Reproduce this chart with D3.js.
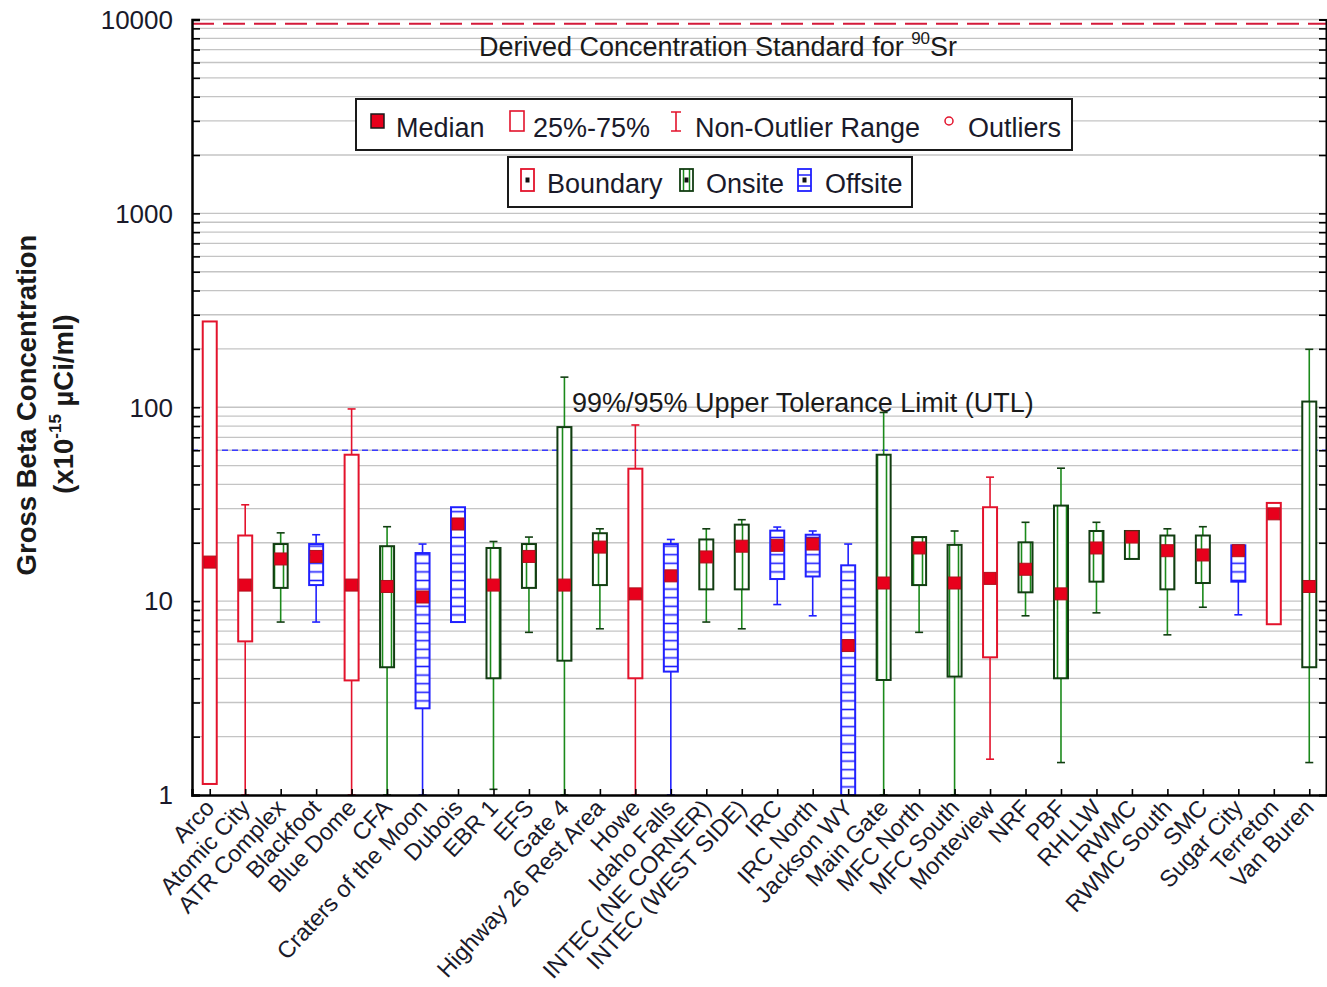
<!DOCTYPE html>
<html>
<head>
<meta charset="utf-8">
<script src="https://d3js.org/d3.v7.min.js"></script>
<style>
  body { margin: 0; background: #fff; }
  svg { display: block; font-family: "Liberation Sans", Arial, sans-serif; }
</style>
</head>
<body>
<svg width="1327" height="987"></svg>
<script>
// data (x10^-15 uCi/ml)
var sites = ["Arco", "Atomic City", "ATR Complex", "Blackfoot", "Blue Dome", "CFA",
  "Craters of the Moon", "Dubois", "EBR 1", "EFS", "Gate 4", "Highway 26 Rest Area",
  "Howe", "Idaho Falls", "INTEC (NE CORNER)", "INTEC (WEST SIDE)", "IRC", "IRC North",
  "Jackson WY", "Main Gate", "MFC North", "MFC South", "Monteview", "NRF", "PBF",
  "RHLLW", "RWMC", "RWMC South", "SMC", "Sugar City", "Terreton", "Van Buren"];
// B = boundary, O = onsite, F = offsite
var groups = ["B","B","O","F","B","O","F","F","O","O","O","O","B","F","O","O",
  "F","F","F","O","O","O","B","O","O","O","O","O","O","F","B","O"];
var lowWhisker  = [1.14, 1, 7.8, 7.8, 1, 1, 1, 7.8, 1.07, 6.9, 1, 7.2, 1, 1, 7.8, 7.2,
  9.6, 8.4, 1, 1, 6.9, 1, 1.53, 8.4, 1.47, 8.7, 16.5, 6.7, 9.3, 8.5, 7.6, 1.47];
var q1 = [1.14, 6.2, 11.7, 12.1, 3.9, 4.56, 2.8, 7.8, 4.0, 11.7, 4.93, 12.1, 4.0, 4.33, 11.5, 11.5,
  13.0, 13.4, 1, 3.92, 12.1, 4.08, 5.13, 11.1, 4.0, 12.6, 16.5, 11.5, 12.4, 12.6, 7.6, 4.56];
var medians = [15.9, 12.1, 16.5, 17.0, 12.1, 11.9, 10.5, 25.0, 12.1, 17.0, 12.1, 19.0, 10.9, 13.5, 16.9, 19.2,
  19.4, 19.7, 5.9, 12.4, 18.8, 12.4, 13.1, 14.6, 10.9, 18.8, 21.4, 18.2, 17.3, 18.2, 28.2, 11.9];
var q3 = [277, 21.8, 19.7, 19.7, 56.9, 19.2, 17.7, 30.5, 18.8, 19.7, 79, 22.4, 48.2, 19.7, 20.8, 24.8,
  23.1, 22.0, 15.3, 56.9, 21.4, 19.5, 30.5, 20.1, 31.1, 23.0, 23.0, 21.8, 21.8, 19.4, 32.1, 107];
var highWhisker = [277, 31.4, 22.5, 22.0, 98, 24.2, 19.7, 30.5, 20.3, 21.4, 143, 23.6, 81, 20.8, 23.6, 26.3,
  24.1, 23.0, 19.7, 94, 21.4, 23.0, 43.6, 25.5, 48.5, 25.5, 23.0, 23.6, 24.2, 19.4, 32.1, 199];
var yTicks = [1, 10, 100, 1000, 10000];
var dcsValue = 9500;
var utlValue = 60;

var plotL = 192, plotR = 1327, plotT = 19.5, plotB = 795;
var red = "#e3132c", green = "#1b8a1b", darkGreen = "#123d12", blue = "#2020ff";

var svg = d3.select("svg");
var defs = svg.append("defs");

defs.append("pattern").attr("id", "hstripe").attr("patternUnits", "userSpaceOnUse")
  .attr("width", 10).attr("height", 8.6)
  .append("line").attr("x1", 0).attr("x2", 10).attr("y1", 4.3).attr("y2", 4.3)
  .attr("stroke", blue).attr("stroke-width", 1.6);
defs.append("pattern").attr("id", "vstripe").attr("patternUnits", "userSpaceOnUse")
  .attr("width", 9).attr("height", 10)
  .append("line").attr("x1", 4.5).attr("x2", 4.5).attr("y1", 0).attr("y2", 10)
  .attr("stroke", green).attr("stroke-width", 1.6);

// scales
var x = d3.scalePoint().domain(sites).range([plotL, plotR]).padding(0.5);
var y = d3.scaleLog().domain([1, 10000]).range([plotB, plotT]);

// grid
var minor = [];
for (var e = 0; e < 4; e++) for (var m = 1; m < 10; m++) minor.push(m * Math.pow(10, e));
minor.push(10000);
svg.append("g").selectAll("line").data(minor.filter(function(v){ return v > 1; })).enter()
  .append("line")
  .attr("x1", plotL).attr("x2", plotR)
  .attr("y1", function(d){ return y(d); }).attr("y2", function(d){ return y(d); })
  .attr("stroke", "#c4c4c4").attr("stroke-width", 1.3);

// reference lines
svg.append("line").attr("x1", plotL).attr("x2", plotR)
  .attr("y1", y(dcsValue)).attr("y2", y(dcsValue))
  .attr("stroke", "#d41a3a").attr("stroke-width", 2).attr("stroke-dasharray", "22,9");
svg.append("line").attr("x1", plotL).attr("x2", plotR)
  .attr("y1", y(utlValue)).attr("y2", y(utlValue))
  .attr("stroke", "#3a3aff").attr("stroke-width", 1.6).attr("stroke-dasharray", "6,4");

var dcsText = svg.append("text").attr("x", 718).attr("y", 56)
  .attr("text-anchor", "middle").attr("font-size", 27).attr("fill", "#1a1a1a");
dcsText.append("tspan").text("Derived Concentration Standard for ");
dcsText.append("tspan").attr("font-size", 17).attr("dy", -12).text("90");
dcsText.append("tspan").attr("dy", 12).text("Sr");

svg.append("text").attr("x", 572).attr("y", 412).attr("font-size", 27)
  .attr("fill", "#1a1a1a").text("99%/95% Upper Tolerance Limit (UTL)");

// boxes
var boxW = 14, capW = 8;
var idx = d3.range(sites.length);
function lineColor(g){ return g === "B" ? red : (g === "O" ? green : blue); }
function capColor(g){ return g === "B" ? red : (g === "O" ? darkGreen : blue); }

var box = svg.append("g").selectAll("g").data(idx).enter().append("g");
box.append("line")
  .attr("x1", function(i){ return x(sites[i]); }).attr("x2", function(i){ return x(sites[i]); })
  .attr("y1", function(i){ return y(highWhisker[i]); }).attr("y2", function(i){ return y(q3[i]); })
  .attr("stroke", function(i){ return lineColor(groups[i]); }).attr("stroke-width", 1.6);
box.append("line")
  .attr("x1", function(i){ return x(sites[i]); }).attr("x2", function(i){ return x(sites[i]); })
  .attr("y1", function(i){ return y(q1[i]); }).attr("y2", function(i){ return y(lowWhisker[i]); })
  .attr("stroke", function(i){ return lineColor(groups[i]); }).attr("stroke-width", 1.6);
box.filter(function(i){ return highWhisker[i] > q3[i]; }).append("line")
  .attr("x1", function(i){ return x(sites[i]) - capW / 2; }).attr("x2", function(i){ return x(sites[i]) + capW / 2; })
  .attr("y1", function(i){ return y(highWhisker[i]); }).attr("y2", function(i){ return y(highWhisker[i]); })
  .attr("stroke", function(i){ return capColor(groups[i]); }).attr("stroke-width", 1.6);
box.filter(function(i){ return lowWhisker[i] < q1[i]; }).append("line")
  .attr("x1", function(i){ return x(sites[i]) - capW / 2; }).attr("x2", function(i){ return x(sites[i]) + capW / 2; })
  .attr("y1", function(i){ return y(lowWhisker[i]); }).attr("y2", function(i){ return y(lowWhisker[i]); })
  .attr("stroke", function(i){ return capColor(groups[i]); }).attr("stroke-width", 1.6);

box.append("rect")
  .attr("x", function(i){ return x(sites[i]) - boxW / 2; }).attr("width", boxW)
  .attr("y", function(i){ return y(q3[i]); })
  .attr("height", function(i){ return y(q1[i]) - y(q3[i]); })
  .attr("fill", "#fff");
box.filter(function(i){ return groups[i] !== "B"; }).append("rect")
  .attr("x", function(i){ return x(sites[i]) - boxW / 2; }).attr("width", boxW)
  .attr("y", function(i){ return y(q3[i]); })
  .attr("height", function(i){ return y(q1[i]) - y(q3[i]); })
  .attr("fill", function(i){ return groups[i] === "O" ? "url(#vstripe)" : "url(#hstripe)"; });
box.append("rect")
  .attr("x", function(i){ return x(sites[i]) - boxW / 2; }).attr("width", boxW)
  .attr("y", function(i){ return y(q3[i]); })
  .attr("height", function(i){ return y(q1[i]) - y(q3[i]); })
  .attr("fill", "none")
  .attr("stroke", function(i){ return groups[i] === "B" ? red : (groups[i] === "O" ? darkGreen : blue); })
  .attr("stroke-width", 2);

box.append("rect")
  .attr("x", function(i){ return x(sites[i]) - 6; }).attr("width", 12)
  .attr("y", function(i){ return y(medians[i]) - 6; }).attr("height", 12)
  .attr("fill", "#e8001c").attr("stroke", "#b0101c").attr("stroke-width", 1);

// axes
svg.append("g").attr("transform", "translate(" + plotL + ",0)")
  .call(d3.axisRight(y).tickValues(minor).tickSize(8).tickFormat(""))
  .call(function(g){ g.select(".domain").attr("stroke-width", 2.5); g.selectAll("line").attr("stroke-width", 1.6); });
svg.append("g").attr("transform", "translate(" + (plotR - 1) + ",0)")
  .call(d3.axisLeft(y).tickValues(minor).tickSize(7).tickFormat(""))
  .call(function(g){ g.select(".domain").attr("stroke-width", 2); g.selectAll("line").attr("stroke-width", 1.6); });

svg.append("g").selectAll("text").data(yTicks).enter().append("text")
  .attr("x", 173).attr("y", function(d){ return y(d); }).attr("dy", "0.36em")
  .attr("text-anchor", "end").attr("font-size", 26).attr("fill", "#1a1a2a")
  .text(function(d){ return d; });

var xAxis = svg.append("g").attr("transform", "translate(0," + plotB + ")")
  .call(d3.axisTop(x).tickSize(6).tickFormat(""));
xAxis.select(".domain").attr("stroke-width", 2.5);
xAxis.selectAll("line").attr("stroke-width", 1.6);

svg.append("g").selectAll("text").data(sites).enter().append("text")
  .attr("transform", function(d){ return "translate(" + (x(d) + 6) + "," + (plotB + 14) + ") rotate(-47)"; })
  .attr("text-anchor", "end").attr("font-size", 23.5).attr("fill", "#1a1a2a")
  .text(function(d){ return d; });

// y title
svg.append("text").attr("transform", "translate(36,405) rotate(-90)")
  .attr("text-anchor", "middle").attr("font-size", 27.5).attr("font-weight", "bold")
  .attr("fill", "#1a1a1a").text("Gross Beta Concentration");
var yt2 = svg.append("text").attr("transform", "translate(73,404) rotate(-90)")
  .attr("text-anchor", "middle").attr("font-size", 27.5).attr("font-weight", "bold").attr("fill", "#1a1a1a");
yt2.append("tspan").text("(x10");
yt2.append("tspan").attr("font-size", 17).attr("dy", -12).text("-15");
yt2.append("tspan").attr("dy", 12).text(" \u00b5Ci/ml)");

// legend 1
var lg1 = svg.append("g");
lg1.append("rect").attr("x", 356).attr("y", 99).attr("width", 716).attr("height", 51)
  .attr("fill", "#fff").attr("stroke", "#1a1a1a").attr("stroke-width", 2);
lg1.append("rect").attr("x", 371).attr("y", 114).attr("width", 13).attr("height", 14)
  .attr("fill", "#e8001c").attr("stroke", "#1a1a1a").attr("stroke-width", 1.5);
lg1.append("text").attr("x", 396).attr("y", 137).attr("font-size", 27).attr("fill", "#1a1a2a").text("Median");
lg1.append("rect").attr("x", 510).attr("y", 111).attr("width", 14).attr("height", 20)
  .attr("fill", "#fff").attr("stroke", red).attr("stroke-width", 1.6);
lg1.append("text").attr("x", 533).attr("y", 137).attr("font-size", 27).attr("fill", "#1a1a2a").text("25%-75%");
lg1.append("path").attr("d", "M671,112H681M676,112V131M671,131H681")
  .attr("fill", "none").attr("stroke", red).attr("stroke-width", 1.6);
lg1.append("text").attr("x", 695).attr("y", 137).attr("font-size", 27).attr("fill", "#1a1a2a").text("Non-Outlier Range");
lg1.append("circle").attr("cx", 949).attr("cy", 121).attr("r", 4)
  .attr("fill", "#fff").attr("stroke", red).attr("stroke-width", 1.5);
lg1.append("text").attr("x", 968).attr("y", 137).attr("font-size", 27).attr("fill", "#1a1a2a").text("Outliers");

// legend 2
var lg2 = svg.append("g");
lg2.append("rect").attr("x", 508).attr("y", 157).attr("width", 404).attr("height", 50)
  .attr("fill", "#fff").attr("stroke", "#1a1a1a").attr("stroke-width", 2);
var sym = [["B", 521, "Boundary", 547], ["O", 680, "Onsite", 706], ["F", 798, "Offsite", 825]];
sym.forEach(function(s){
  lg2.append("rect").attr("x", s[1]).attr("y", 169).attr("width", 13).attr("height", 22).attr("fill", "#fff");
  if (s[0] === "O") {
    [s[1] + 3.5, s[1] + 9.5].forEach(function(lx){
      lg2.append("line").attr("x1", lx).attr("x2", lx).attr("y1", 169).attr("y2", 191)
        .attr("stroke", green).attr("stroke-width", 1.5);
    });
  }
  if (s[0] === "F") {
    [175, 186].forEach(function(ly){
      lg2.append("line").attr("x1", s[1]).attr("x2", s[1] + 13).attr("y1", ly).attr("y2", ly)
        .attr("stroke", blue).attr("stroke-width", 1.5);
    });
  }
  lg2.append("rect").attr("x", s[1]).attr("y", 169).attr("width", 13).attr("height", 22)
    .attr("fill", "none").attr("stroke", s[0] === "B" ? red : (s[0] === "O" ? darkGreen : blue))
    .attr("stroke-width", 1.8);
  lg2.append("rect").attr("x", s[1] + 4.5).attr("y", 177.5).attr("width", 4).attr("height", 5).attr("fill", "#111");
  lg2.append("text").attr("x", s[3]).attr("y", 193).attr("font-size", 27).attr("fill", "#1a1a2a").text(s[2]);
});
</script>
</body>
</html>
